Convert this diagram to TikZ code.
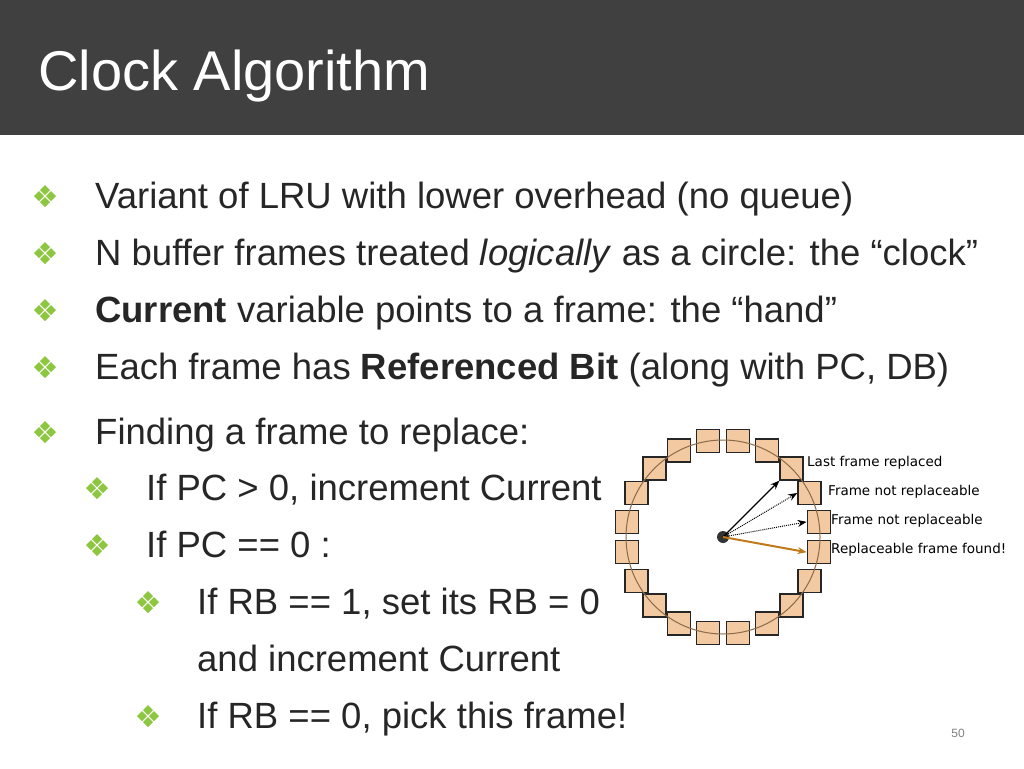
\documentclass[tikz,border=0pt]{standalone}
\usepackage{fontspec}
\setmainfont{Liberation Sans}
\newfontfamily\labfont{DejaVu Sans}
\definecolor{barbg}{HTML}{404040}
\definecolor{bulgreen}{HTML}{8DC63F}
\definecolor{framefill}{HTML}{F2C9A0}
\definecolor{handorange}{HTML}{C07A1A}
\definecolor{textgray}{HTML}{262626}
\definecolor{ringbrown}{HTML}{8A6A4A}
\newcommand{\fourdia}[2]{%
  \foreach \dx/\dy in {-6/0,6/0,0/-6,0/6}{%
    \fill[bulgreen] (#1+\dx,#2+\dy) +(-5,0) -- +(0,-5) -- +(5,0) -- +(0,5) -- cycle;}%
}
\usetikzlibrary{calc,arrows.meta}
\begin{document}
\begin{tikzpicture}[x=1pt, y=-1pt,
    txt/.style={anchor=base west, text=textgray, font=\fontsize{36.5}{36.5}\selectfont, inner sep=0},
    frame/.style={draw=black!85, line width=1.4pt, fill=framefill, minimum size=23, inner sep=0},
    lab/.style={anchor=west, font=\labfont\fontsize{13.5}{13.5}\selectfont, inner sep=0},
    hand/.style={-{Stealth[length=9pt,width=7pt]}}]
  \useasboundingbox (0,0) rectangle (1024,768);
  % title bar
  \fill[barbg] (0,0) rectangle (1024,135);
  \node[anchor=base west, text=white, font=\fontsize{56}{56}\selectfont, inner sep=0] (title) at (38,90) {Clock Algorithm};

  % bullets
  \node[txt] (b1) at (95,208) {Variant of LRU with lower overhead (no queue)};
  \node[txt] (b2) at (95,265) {N buffer frames treated \textit{logically} as a circle: the “clock”};
  \node[txt] (b3) at (95,322) {\textbf{Current} variable points to a frame: the “hand”};
  \node[txt] (b4) at (95,379) {Each frame has \textbf{Referenced Bit} (along with PC, DB)};
  \node[txt] (b5) at (95,444) {Finding a frame to replace:};
  \node[txt] (s1) at (146,500) {If PC > 0, increment Current};
  \node[txt] (s2) at (146,557) {If PC == 0 :};
  \node[txt] (t1) at (197,614) {If RB == 1, set its RB = 0};
  \node[txt] (t2) at (197,671) {and increment Current};
  \node[txt] (t3) at (197,728) {If RB == 0, pick this frame!};
  \foreach \bx/\by in {45/196,45/253,45/310,45/367,45/432,97/488,97/545,148/602,148/716}{
    \fourdia{\bx}{\by}
  }

  % clock
  \coordinate (ctr) at (723,537);
  \foreach \k in {0,...,19}
    \node[frame] (f\k) at ($(ctr)+({9+18*\k}:97 and -97)$) {};
  \draw[ringbrown, line width=1pt] (ctr) circle[radius=97pt];
  \fill[black!80] (ctr) circle[radius=6pt];
  \draw[hand, line width=1.2pt] (ctr) -- (f2.south west);
  \draw[hand, densely dotted, line width=1pt] (ctr) -- (f1.west);
  \draw[hand, densely dotted, line width=1pt] (ctr) -- (f0.west);
  \draw[hand, handorange, line width=2pt] (ctr) -- (f19.west);
  \node[lab] (l1) at (807,463) {Last frame replaced};
  \node[lab] (l2) at (828,492) {Frame not replaceable};
  \node[lab] (l3) at (831,521) {Frame not replaceable};
  \node[lab] (l4) at (831,550) {Replaceable frame found!};

  % page number
  \node[text=gray, font=\fontsize{12}{12}\selectfont] (pg) at (958,733) {50};
\end{tikzpicture}
\end{document}
